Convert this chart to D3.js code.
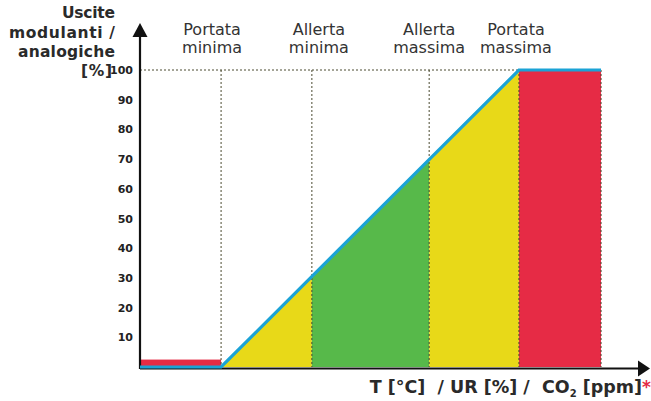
<!DOCTYPE html>
<html><head><meta charset="utf-8">
<script src="https://cdn.jsdelivr.net/npm/d3@7"></script>
<style>
html,body{margin:0;padding:0;background:#fff;}
svg{display:block;font-family:"DejaVu Sans",Verdana,sans-serif;}
</style></head>
<body><svg id="c" width="651" height="401"></svg>
<script>
// ---- data ----
const zoneNames = [["Portata","minima"],["Allerta","minima"],["Allerta","massima"],["Portata","massima"]];
const thresholds = [15.9, 33.7, 56.7, 74.3];   // x positions of the thresholds (0..100 axis units)
const xEnd = 90.4;                             // end of the plotted range
const yTicks = [10,20,30,40,50,60,70,80,90,100];
const outputX = [0, 15.9, 74.3, 90.4];          // output line x
const outputY = [0, 0, 100, 100];               // output line y [%]
const minBarValue = 2.5;                        // small red band before "Portata minima"
const zoneFillColors = ["#E8D918","#57B94A","#E8D918","#E62B45"];
const yTitle = ["Uscite","modulanti /","analogiche","[%]"];

// ---- scales ----
const svg = d3.select("#c");
const x = d3.scaleLinear().domain([0,100]).range([140,650]);
const y = d3.scaleLinear().domain([0,100]).range([367,70]);
const f = d3.scaleLinear().domain(outputX).range(outputY); // piecewise output function

// ---- zone fills ----
const edges = [thresholds[0], thresholds[1], thresholds[2], thresholds[3], xEnd];
const area = d3.area().x(d=>x(d)).y0(y(0)).y1(d=>y(f(d)));
for(let i=0;i<4;i++){
  svg.append("path").attr("d", area([edges[i], edges[i+1]])).attr("fill", zoneFillColors[i]);
}
// small red band
svg.append("rect").attr("x",x(0)).attr("y",y(minBarValue)).attr("width",x(thresholds[0])-x(0))
  .attr("height",y(0)-y(minBarValue)).attr("fill","#E62B45");

// ---- dashed guides ----
const dash = "#4a4a30";
svg.append("line").attr("x1",x(0)).attr("x2",x(thresholds[3])).attr("y1",y(100)).attr("y2",y(100))
  .attr("stroke",dash).attr("stroke-width",1).attr("stroke-dasharray","2,2");
thresholds.concat([xEnd]).forEach(t=>{
  svg.append("line").attr("x1",x(t)).attr("x2",x(t)).attr("y1",y(100)).attr("y2",y(0))
    .attr("stroke",dash).attr("stroke-width",1).attr("stroke-dasharray","2,2");
});

// ---- axes ----
svg.append("line").attr("x1",x(0)).attr("x2",x(100)-12).attr("y1",y(0)+1.5).attr("y2",y(0)+1.5)
  .attr("stroke","#111").attr("stroke-width",2.2);
svg.append("path").attr("d",`M${x(100)-12},${y(0)+1.5-8}L${x(100)},${y(0)+1.5}L${x(100)-12},${y(0)+1.5+8}Z`).attr("fill","#111");
svg.append("line").attr("x1",x(0)).attr("x2",x(0)).attr("y1",y(0)+2).attr("y2",37)
  .attr("stroke","#111").attr("stroke-width",2.2);
svg.append("path").attr("d",`M${x(0)-7.5},37L${x(0)},23L${x(0)+7.5},37Z`).attr("fill","#111");

// ---- output line ----
const line = d3.line().x(d=>x(d[0])).y(d=>y(d[1]));
svg.append("path").attr("d", line(outputX.map((v,i)=>[v,outputY[i]])))
  .attr("fill","none").attr("stroke","#1BA3D6").attr("stroke-width",3.2).attr("stroke-linejoin","miter");

// ---- y tick labels ----
svg.selectAll("text.yt").data(yTicks).enter().append("text")
  .attr("class","yt").attr("x",133).attr("y",d=>y(d)+4)
  .attr("text-anchor","end").attr("font-size","11px").attr("font-weight","bold").attr("fill","#222")
  .text(d=>d);

// ---- y title ----
const ty = [18, 38, 57, 76];
const tl = [53, 106, 97, 31];
const tx = [115, 115, 115, 112];
yTitle.forEach((s,i)=>{
  svg.append("text").attr("text-anchor","end").attr("x",tx[i]).attr("y",ty[i])
    .attr("font-size","15.5px").attr("font-weight","bold").attr("fill","#2a2a2a")
    .attr("textLength",tl[i]).attr("lengthAdjust","spacing").text(s);
});

// ---- zone names ----
thresholds.forEach((t,i)=>{
  const g = svg.append("text").attr("text-anchor","middle").attr("font-size","16px").attr("fill","#333");
  const cx = x(t) - (i===0?9:(i===1?-7:(i===3?3:0)));
  g.append("tspan").attr("x",cx).attr("y",35).text(zoneNames[i][0]);
  g.append("tspan").attr("x",cx).attr("y",53).text(zoneNames[i][1]);
});

// ---- x title ----
const xt = svg.append("text").attr("x",642).attr("y",393).attr("text-anchor","end")
  .attr("font-size","17.5px").attr("font-weight","bold").attr("fill","#2a2a2a").attr("xml:space","preserve");
xt.append("tspan").text("T [°C]  / UR [%] /  CO");
xt.append("tspan").attr("font-size","10px").attr("dy",4).text("2");
xt.append("tspan").attr("dy",-4).text(" [ppm]");
svg.append("text").attr("x",642).attr("y",393).attr("font-size","17px").attr("font-weight","bold").attr("fill","#E62B45").text("*");
</script></body></html>
